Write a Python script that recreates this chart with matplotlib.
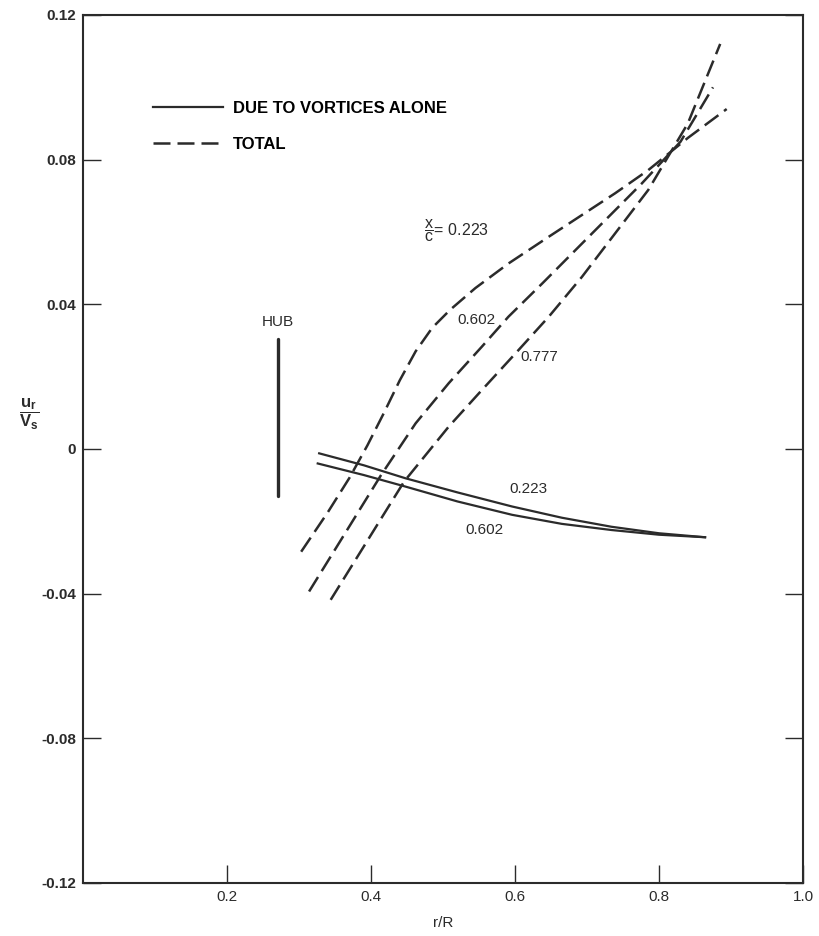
import matplotlib.pyplot as plt

plt.rcParams['font.family'] = ['Liberation Sans', 'DejaVu Sans']
plt.rcParams['mathtext.fontset'] = 'custom'
plt.rcParams['mathtext.rm'] = 'Liberation Sans'
plt.rcParams['mathtext.it'] = 'Liberation Sans'
plt.rcParams['mathtext.bf'] = 'Liberation Sans:bold'

# total (dashed) curves, x/c = 0.223, 0.602, 0.777
r_223 = [0.303, 0.340, 0.370, 0.395, 0.418, 0.440, 0.462, 0.485, 0.510, 0.545, 0.591, 0.647, 0.693, 0.739, 0.785, 0.840, 0.894]
u_223 = [-0.0284, -0.0175, -0.008, 0.001, 0.010, 0.019, 0.027, 0.0335, 0.0385, 0.0445, 0.0513, 0.0587, 0.0647, 0.0707, 0.0771, 0.086, 0.094]

r_602 = [0.314, 0.414, 0.462, 0.508, 0.554, 0.591, 0.638, 0.684, 0.730, 0.776, 0.830, 0.875]
u_602 = [-0.0394, -0.0072, 0.0071, 0.0182, 0.0283, 0.0366, 0.0458, 0.055, 0.0642, 0.0734, 0.085, 0.100]

r_777 = [0.344, 0.446, 0.508, 0.554, 0.601, 0.647, 0.693, 0.739, 0.785, 0.840, 0.885]
u_777 = [-0.0417, -0.009, 0.0062, 0.0163, 0.0265, 0.0366, 0.0476, 0.0596, 0.0716, 0.090, 0.112]

# due to vortices alone (solid)
rv_223 = [0.328, 0.390, 0.448, 0.520, 0.596, 0.665, 0.734, 0.800, 0.864]
uv_223 = [-0.0012, -0.0045, -0.0081, -0.012, -0.0159, -0.019, -0.0215, -0.0233, -0.0244]
rv_602 = [0.326, 0.390, 0.448, 0.520, 0.596, 0.665, 0.734, 0.800, 0.864]
uv_602 = [-0.004, -0.0072, -0.0104, -0.0145, -0.0182, -0.0207, -0.0224, -0.0237, -0.0244]

# hub
hub_r = [0.271, 0.271]
hub_u = [-0.013, 0.0305]

xticks = [0.2, 0.4, 0.6, 0.8, 1.0]
xlabels = ['0.2', '0.4', '0.6', '0.8', '1.0']
yticks = [-0.12, -0.08, -0.04, 0, 0.04, 0.08, 0.12]
ylabels = ['-0.12', '-0.08', '-0.04', '0', '0.04', '0.08', '0.12']

ink = '#2b2b2b'
dash = (0, (6.8, 2.8))

fig = plt.figure(figsize=(8.2, 9.36), dpi=100)
ax = fig.add_axes([83/820, 1 - 883/936, 720/820, 868/936])

d1, = ax.plot(r_223, u_223, color=ink, lw=1.8, linestyle=dash)
ax.plot(r_602, u_602, color=ink, lw=1.8, linestyle=dash)
ax.plot(r_777, u_777, color=ink, lw=1.8, linestyle=dash)
s1, = ax.plot(rv_223, uv_223, color=ink, lw=1.6)
ax.plot(rv_602, uv_602, color=ink, lw=1.6)
ax.plot(hub_r, hub_u, color=ink, lw=2.4, solid_capstyle='round')

ax.text(0.271, 0.0352, 'HUB', ha='center', va='center', fontsize=11, color=ink)
ax.text(0.474, 0.0605, r'$\dfrac{x}{c}$= 0.223', ha='left', va='center', fontsize=11.5, color=ink)
ax.text(0.547, 0.0357, '0.602', ha='center', va='center', fontsize=11, color=ink)
ax.text(0.634, 0.0254, '0.777', ha='center', va='center', fontsize=11, color=ink)
ax.text(0.618, -0.011, '0.223', ha='center', va='center', fontsize=11, color=ink)
ax.text(0.557, -0.0224, '0.602', ha='center', va='center', fontsize=11, color=ink)

ax.legend([s1, d1], ['DUE TO VORTICES ALONE', 'TOTAL'], loc='upper left',
          bbox_to_anchor=(0.097, 0.901), frameon=False, borderpad=0, borderaxespad=0,
          handlelength=4.2, handletextpad=0.6, labelspacing=1.26,
          prop={'weight': 'bold', 'size': 12})

ax.set_xlim(0, 1.0)
ax.set_ylim(-0.12, 0.12)
ax.set_xticks(xticks)
ax.set_xticklabels(xlabels)
ax.set_yticks(yticks)
ax.set_yticklabels(ylabels)
for lbl in ax.get_yticklabels():
    lbl.set_fontweight('bold')
ax.tick_params(direction='in', length=13, width=1, right=True, top=False,
               labelsize=11, pad=5, colors=ink)
for sp in ax.spines.values():
    sp.set_linewidth(1.5)
    sp.set_color(ink)

ax.set_xlabel('r/R', fontsize=11, color=ink, labelpad=9)
ax.set_ylabel(r'$\dfrac{\mathbf{u_r}}{\mathbf{V_s}}$', rotation=0, fontsize=12, color=ink)
ax.yaxis.set_label_coords(-0.075, 0.52)

fig.savefig('out.png', dpi=100)
